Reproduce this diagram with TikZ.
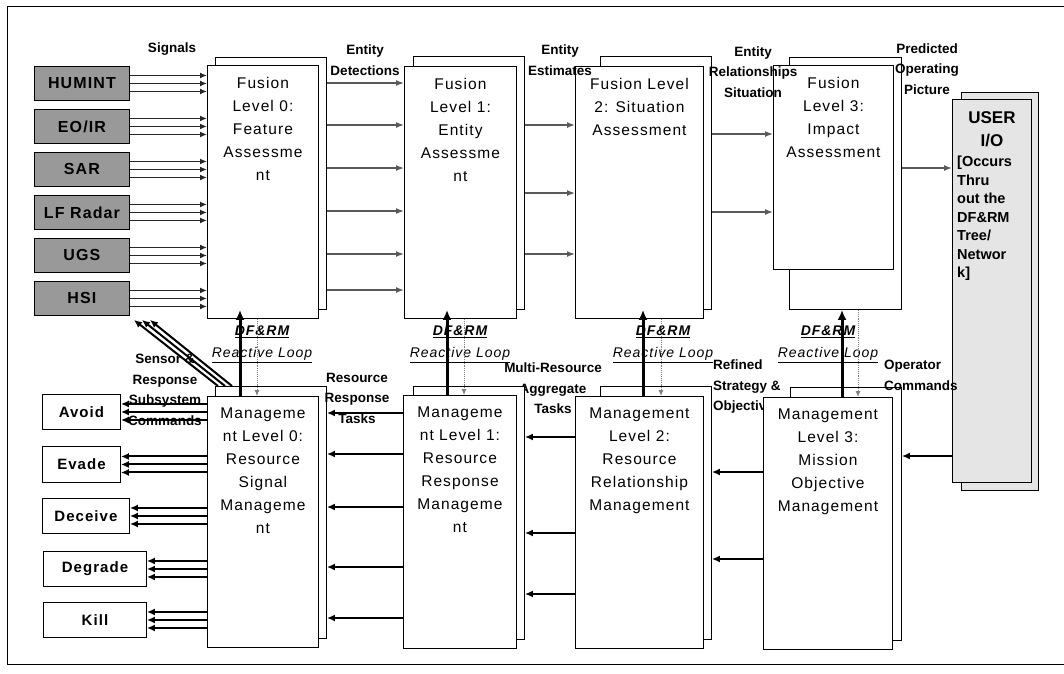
\documentclass[tikz,border=0pt]{standalone}
\usepackage{fontspec}
\setmainfont{Liberation Sans}
\newfontfamily\boxfont[LetterSpace=7]{Liberation Sans}
\usetikzlibrary{arrows.meta}
\definecolor{SensorGray}{gray}{0.6}
\definecolor{UserGray}{gray}{0.9}
\tikzset{
  frontbox/.style={
    draw=black,
    fill=white,
    anchor=north west,
    inner sep=0pt,
    line width=0.9pt
  },
  sensorbox/.style={
    frontbox,
    fill=SensorGray,
    text=black,
    minimum width=95,
    minimum height=34,
    font=\boxfont\bfseries\fontsize{16}{18}\selectfont
  },
  actionbox/.style={
    frontbox,
    font=\boxfont\bfseries\fontsize{15}{18}\selectfont
  },
  boxtext/.style={
    anchor=north,
    inner sep=0pt,
    align=center,
    font=\boxfont\fontsize{15.5}{23}\selectfont
  },
  flowlabel/.style={
    inner sep=0pt,
    align=center,
    font=\bfseries\fontsize{13.5}{20.5}\selectfont
  },
  looplabel/.style={
    inner sep=0pt,
    align=center,
    font=\boxfont\itshape\fontsize{14}{22}\selectfont
  },
  sigarrow/.style={
    -{Latex[length=7pt,width=6pt]},
    line width=1.7pt,
    draw=black!85
  },
  flowline/.style={
    -{Latex[length=8pt,width=6pt]},
    line width=1.5pt,
    draw=black!65
  },
  cmdarrow/.style={
    -{Latex[length=8pt,width=7pt]},
    line width=2pt,
    draw=black
  },
  loopup/.style={
    -{Latex[length=10pt,width=9pt]},
    line width=3pt,
    draw=black
  },
  loopdown/.style={
    -{Latex[length=6pt,width=5pt]},
    densely dotted,
    line width=0.9pt,
    draw=gray
  }
}

\begin{document}
\begin{tikzpicture}[x=1pt,y=-1pt]
\useasboundingbox (0,0) rectangle (1064,673);
\draw[line width=0.9pt] (1064,6) -- (7,6) -- (7,664) -- (1064,664);

% labels hidden behind the management boxes
\node[flowlabel, anchor=north] (multilbl) at (553,363) {Multi-Resource\\Aggregate\\Tasks};
\node[flowlabel, anchor=north west, align=left] (refinedlbl) at (713,360) {Refined\\Strategy \&\\Objectives};

% sensors
\node[sensorbox] (humint) at (34,66) {HUMINT};
\node[sensorbox] (eoir) at (34,109) {EO/IR};
\node[sensorbox] (sar) at (34,152) {SAR};
\node[sensorbox] (lfradar) at (34,195) {LF Radar};
\node[sensorbox] (ugs) at (34,238) {UGS};
\node[sensorbox] (hsi) at (34,281) {HSI};

% fusion levels
\node[frontbox, minimum width=111, minimum height=252] (f0b) at (215,57) {};
\node[frontbox, minimum width=111, minimum height=253] (f0) at (207,65) {};
\node[boxtext] (f0text) at ([yshift=-12]f0.north) {Fusion\\Level 0:\\Feature\\Assessme\\nt};
\node[frontbox, minimum width=111, minimum height=253] (f1b) at (413,56) {};
\node[frontbox, minimum width=112, minimum height=252] (f1) at (404,66) {};
\node[boxtext] (f1text) at ([yshift=-12]f1.north) {Fusion\\Level 1:\\Entity\\Assessme\\nt};
\node[frontbox, minimum width=111, minimum height=253] (f2b) at (600,56) {};
\node[frontbox, minimum width=128, minimum height=252] (f2) at (575,66) {};
\node[boxtext] (f2text) at ([yshift=-12]f2.north) {Fusion Level\\2: Situation\\Assessment};
\node[frontbox, minimum width=112, minimum height=252] (f3b) at (789,57) {};
\node[frontbox, minimum width=120, minimum height=204] (f3) at (773,65) {};
\node[boxtext] (f3text) at ([yshift=-12]f3.north) {Fusion\\Level 3:\\Impact\\Assessment};

% user
\node[frontbox, fill=UserGray, minimum width=77, minimum height=398] (userb) at (961,92) {};
\node[frontbox, fill=UserGray, minimum width=79, minimum height=383] (user) at (952,99) {};
\node[anchor=north, inner sep=0pt, align=center, font=\bfseries\fontsize{17}{23}\selectfont] (usertitle) at ([yshift=-12]user.north) {USER\\I/O};
\node[anchor=north west, inner sep=0pt, align=left, font=\bfseries\fontsize{14.5}{18.5}\selectfont] (usertext) at (957,156) {[Occurs\\Thru\\out the\\DF\&RM\\Tree/\\Networ\\k]};

% management levels
\node[frontbox, minimum width=111, minimum height=252] (m0b) at (215,386) {};
\node[frontbox, minimum width=111, minimum height=251] (m0) at (207,396) {};
\node[boxtext] (m0text) at ([yshift=-12]m0.north) {Manageme\\nt Level 0:\\Resource\\Signal\\Manageme\\nt};
\node[frontbox, minimum width=111, minimum height=253] (m1b) at (413,386) {};
\node[frontbox, minimum width=113, minimum height=253] (m1) at (403,395) {};
\node[boxtext] (m1text) at ([yshift=-12]m1.north) {Manageme\\nt Level 1:\\Resource\\Response\\Manageme\\nt};
\node[frontbox, minimum width=111, minimum height=253] (m2b) at (600,386) {};
\node[frontbox, minimum width=128, minimum height=252] (m2) at (575,396) {};
\node[boxtext] (m2text) at ([yshift=-12]m2.north) {Management\\Level 2:\\Resource\\Relationship\\Management};
\node[frontbox, minimum width=111, minimum height=253] (m3b) at (790,387) {};
\node[frontbox, minimum width=129, minimum height=252] (m3) at (763,397) {};
\node[boxtext] (m3text) at ([yshift=-12]m3.north) {Management\\Level 3:\\Mission\\Objective\\Management};

% responses
\node[actionbox, minimum width=78, minimum height=35] (avoid) at (42,394) {Avoid};
\node[actionbox, minimum width=78, minimum height=36] (evade) at (42,446) {Evade};
\node[actionbox, minimum width=87, minimum height=35] (deceive) at (42,498) {Deceive};
\node[actionbox, minimum width=103, minimum height=35] (degrade) at (43,551) {Degrade};
\node[actionbox, minimum width=103, minimum height=35] (kill) at (43,602) {Kill};

% labels
\node[flowlabel] (sigint) at (172,49) {Signals};
\node[flowlabel] (detlbl) at (365,60) {Entity\\Detections};
\node[flowlabel] (estlbl) at (560,60) {Entity\\Estimates};
\node[flowlabel] (rellbl) at (753,72) {Entity\\Relationships\\Situation};
\node[flowlabel] (piclbl) at (927,69) {Predicted\\Operating\\Picture};
\node[flowlabel] (sensorlbl) at (165,390) {Sensor \&\\Response\\Subsystem\\Commands};
\node[flowlabel] (tasklbl) at (357,398) {Resource\\Response\\Tasks};
\node[flowlabel, anchor=north west, align=left] (oplbl) at (884,360) {Operator\\Commands};
\node[looplabel] (loop0) at (262,344) {\underline{\bfseries DF\&RM}\\\underline{Reactive Loop}};
\node[looplabel] (loop1) at (460,344) {\underline{\bfseries DF\&RM}\\\underline{Reactive Loop}};
\node[looplabel] (loop2) at (663,344) {\underline{\bfseries DF\&RM}\\\underline{Reactive Loop}};
\node[looplabel] (loop3) at (828,344) {\underline{\bfseries DF\&RM}\\\underline{Reactive Loop}};

% signals into level 0
\foreach \s in {humint,eoir,sar,lfradar,ugs,hsi}
  \foreach \d in {8,0,-8}
    \draw[sigarrow] ([yshift=\d]\s.east) -- ([yshift=\d]\s.east -| f0.west);

% fusion chain
\foreach \y in {83,125,168,211,254,290}
  \draw[flowline] (f0b.east |- 0,\y) -- (f1.west |- 0,\y);
\foreach \y in {125,193,254}
  \draw[flowline] (f1b.east |- 0,\y) -- (f2.west |- 0,\y);
\foreach \y in {134,212}
  \draw[flowline] (f2b.east |- 0,\y) -- (f3.west |- 0,\y);
\draw[flowline] (f3b.east |- 0,168) -- (user.west |- 0,168);

% management chain
\draw[cmdarrow] (user.west |- 0,456) -- (m3b.east |- 0,456);
\foreach \y in {472,559}
  \draw[cmdarrow] (m3.west |- 0,\y) -- (m2b.east |- 0,\y);
\foreach \y in {437,533,594}
  \draw[cmdarrow] (m2.west |- 0,\y) -- (m1b.east |- 0,\y);
\foreach \y in {413,454,507,567,618}
  \draw[cmdarrow] (m1.west |- 0,\y) -- (m0b.east |- 0,\y);

% responses out of level 0
\foreach \o in {avoid,evade,deceive,degrade,kill}
  \foreach \d in {8,0,-8}
    \draw[cmdarrow] ([yshift=\d]m0.west |- \o.east) -- ([yshift=\d]\o.east);
\foreach \i in {0,1,2}
  \draw[cmdarrow] ([xshift=3+7*\i]m0b.north west) -- ([xshift=4+8*\i,yshift=-4]hsi.south east);

% reactive loops
\draw[loopup, shorten >=-9pt] (m0.north -| 240,0) -- (f0.south -| 240,0);
\draw[loopdown] (f0.south -| 257,0) -- (m0.north -| 257,0);
\draw[loopup, shorten >=-9pt] (m1.north -| 447,0) -- (f1.south -| 447,0);
\draw[loopdown] (f1.south -| 464,0) -- (m1.north -| 464,0);
\draw[loopup, shorten >=-9pt] (m2.north -| 643,0) -- (f2.south -| 643,0);
\draw[loopdown] (f2.south -| 661,0) -- (m2.north -| 661,0);
\draw[loopup] (m3.north -| 842,0) -- (f3b.south -| 842,0);
\draw[loopdown] (f3b.south -| 858,0) -- (m3.north -| 858,0);
\end{tikzpicture}
\end{document}
